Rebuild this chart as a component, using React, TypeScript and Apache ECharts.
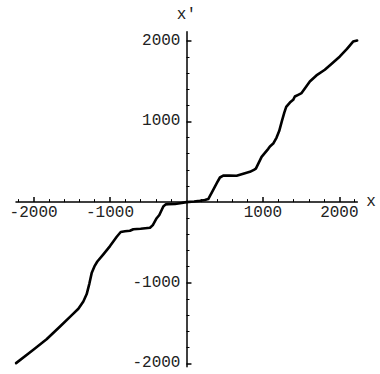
import React, { useEffect, useRef } from "react";
import * as echarts from "echarts";

const xValues = [
  -2229, -2003, -1830, -1654, -1500, -1414, -1349, -1305, -1270, -1240, -1200, -1166,
  -1090, -1000, -912, -860, -804, -740, -695, -600, -477, -440, -390, -355, -303, -272,
  -240, -150, -63, 0, 100, 176, 240, 285, 350, 400, 438, 481, 560, 656, 765, 830, 882,
  908, 983, 1070, 1092, 1135, 1179, 1213, 1250, 1280, 1305, 1353, 1396, 1418, 1462,
  1506, 1614, 1700, 1810, 1900, 2007, 2100, 2180, 2233,
];
const yValues = [
  -1996, -1830, -1700, -1541, -1400, -1322, -1232, -1140, -1010, -880, -790, -736,
  -650, -545, -430, -370, -362, -355, -336, -330, -318, -285, -200, -160, -55, -28,
  -25, -24, -12, 0, 8, 16, 25, 37, 152, 240, 305, 328, 328, 326, 359, 375, 400,
  415, 560, 660, 690, 725, 800, 880, 1010, 1110, 1180, 1234, 1268, 1309, 1330,
  1351, 1494, 1570, 1640, 1715, 1805, 1900, 1990, 2002,
];

const xMajorTicks = [-2000, -1000, 1000, 2000];
const yMajorTicks = [-2000, -1000, 1000, 2000];
const xMinorTicks = [
  -2200, -1800, -1600, -1400, -1200, -800, -600, -400, -200, 200, 400, 600, 800,
  1200, 1400, 1600, 1800, 2200,
];
const yMinorTicks = [
  -1800, -1600, -1400, -1200, -800, -600, -400, -200, 200, 400, 600, 800, 1200,
  1400, 1600, 1800,
];

const X_MIN = -2230;
const X_MAX = 2235;
const Y_MIN = -2040;
const Y_MAX = 2112;

const W = 380;
const H = 374;
const GRID = { left: 16, right: 22.7, top: 31.7, bottom: 7.3 };

const FONT = "'Liberation Mono', 'DejaVu Sans Mono', monospace";

export default function App() {
  const ref = useRef<HTMLDivElement>(null);
  useEffect(() => {
    if (!ref.current) return;
    const chart = echarts.init(ref.current, null, { renderer: "svg" });
    const data = xValues.map((x, i) => [x, yValues[i]]);
    const plotW = W - GRID.left - GRID.right;
    const plotH = H - GRID.top - GRID.bottom;
    // distance of the zero lines from the grid edges, so axes cross at the origin
    const xAxisOffset = -((0 - Y_MIN) / (Y_MAX - Y_MIN)) * plotH;
    const yAxisOffset = -((0 - X_MIN) / (X_MAX - X_MIN)) * plotW;
    const lineStyle = { color: "#000", width: 1.5 };
    const labelStyle = { fontFamily: FONT, fontSize: 16, color: "#222" };
    chart.setOption({
      animation: false,
      grid: { ...GRID, containLabel: false },
      xAxis: [
        {
          type: "value",
          position: "bottom",
          offset: xAxisOffset,
          min: X_MIN,
          max: X_MAX,
          name: "x",
          nameLocation: "end",
          nameGap: 9,
          nameTextStyle: { ...labelStyle, padding: [6, 0, 0, 0] },
          axisLine: { show: true, onZero: false, lineStyle },
          axisTick: { show: true, inside: true, length: 5, customValues: xMajorTicks, lineStyle },
          axisLabel: {
            show: true,
            customValues: xMajorTicks,
            formatter: (v: number) => String(v),
            ...labelStyle,
            margin: 3,
          },
          splitLine: { show: false },
        },
        {
          type: "value",
          position: "bottom",
          offset: xAxisOffset,
          min: X_MIN,
          max: X_MAX,
          axisLine: { show: false, onZero: false },
          axisTick: { show: true, inside: true, length: 3, customValues: xMinorTicks, lineStyle: { color: "#000", width: 1 } },
          axisLabel: { show: false },
          splitLine: { show: false },
        },
      ],
      yAxis: [
        {
          type: "value",
          position: "left",
          offset: yAxisOffset,
          min: Y_MIN,
          max: Y_MAX,
          name: "x'",
          nameLocation: "end",
          nameGap: 9,
          nameTextStyle: { ...labelStyle, align: "center" },
          axisLine: { show: true, onZero: false, lineStyle },
          axisTick: { show: true, inside: true, length: 5, customValues: yMajorTicks, lineStyle },
          axisLabel: {
            show: true,
            customValues: yMajorTicks,
            formatter: (v: number) => String(v),
            ...labelStyle,
            margin: 6,
          },
          splitLine: { show: false },
        },
        {
          type: "value",
          position: "left",
          offset: yAxisOffset,
          min: Y_MIN,
          max: Y_MAX,
          axisLine: { show: false, onZero: false },
          axisTick: { show: true, inside: true, length: 3, customValues: yMinorTicks, lineStyle: { color: "#000", width: 1 } },
          axisLabel: { show: false },
          splitLine: { show: false },
        },
      ],
      series: [
        {
          type: "line",
          xAxisIndex: 0,
          yAxisIndex: 0,
          data,
          showSymbol: false,
          smooth: false,
          lineStyle: { color: "#000", width: 2.6, join: "round", cap: "round" },
        },
      ],
    });
    return () => chart.dispose();
  }, []);
  return (
    <div
      ref={ref}
      style={{ position: "absolute", left: 0, top: 0, width: W, height: H }}
    />
  );
}
